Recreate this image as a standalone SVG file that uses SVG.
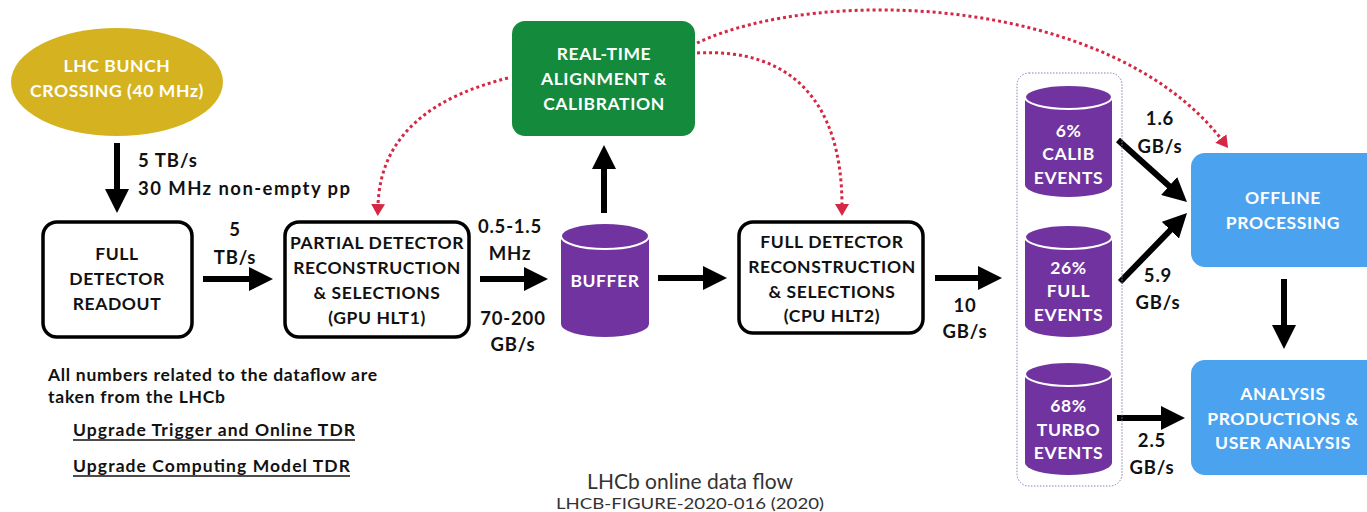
<svg xmlns="http://www.w3.org/2000/svg" width="1367" height="512" viewBox="0 0 1367 512">
<defs>
<style>
.lbl{font-family:Lato,"Open Sans","Liberation Sans",sans-serif;font-weight:bold;font-size:17.5px;letter-spacing:0.6px;text-anchor:middle;dominant-baseline:central}
.num{font-size:18.5px;letter-spacing:0.8px}
.w{fill:#ffffff}
.k{fill:#111111}
.box{fill:#ffffff;stroke:#000;stroke-width:3.5}
.cyl{fill:#7033a0}
.rim{fill:#7033a0;stroke:#ffffff;stroke-width:2}
.arr{stroke:#000;stroke-width:6;fill:none;marker-end:url(#ah)}
.dot{stroke:#d42845;stroke-width:3;fill:none;stroke-dasharray:3 3;marker-end:url(#rh)}
.note{font-family:Lato,"Open Sans","Liberation Sans",sans-serif;font-weight:bold;font-size:17.5px;fill:#111}
.cap{font-family:Lato,"Open Sans","Liberation Sans",sans-serif;fill:#333;text-anchor:middle}
</style>
<marker id="ah" markerUnits="userSpaceOnUse" markerWidth="24" markerHeight="24" viewBox="0 0 24 24" refX="6" refY="12" orient="auto">
<path d="M0,0 L24,12 L0,24 z" fill="#000"/>
</marker>
<marker id="rh" markerUnits="userSpaceOnUse" markerWidth="12" markerHeight="14" viewBox="0 0 12 14" refX="2" refY="7" orient="auto">
<path d="M0,0 L12,7 L0,14 z" fill="#d42845"/>
</marker>
</defs>
<rect width="1367" height="512" fill="#ffffff"/>

<g id="connectors">
<line class="arr" x1="117" y1="143" x2="117" y2="195"/>
<line class="arr" x1="203" y1="279" x2="255" y2="279"/>
<line class="arr" x1="480" y1="279" x2="530" y2="279"/>
<line class="arr" x1="604" y1="213" x2="604" y2="163"/>
<line class="arr" x1="658" y1="278" x2="709" y2="278"/>
<line class="arr" x1="935" y1="278" x2="984" y2="278"/>
<line class="arr" x1="1118" y1="140" x2="1173.6" y2="190"/>
<line class="arr" x1="1120" y1="282" x2="1174.5" y2="225.9"/>
<line class="arr" x1="1117" y1="418" x2="1167" y2="418"/>
<line class="arr" x1="1284" y1="279" x2="1284" y2="331"/>
<path class="dot" d="M508,78 C440,95 380,130 378,206"/>
<path class="dot" d="M697,53 C790,48 842,100 842,206"/>
<path class="dot" d="M697,43 C820,-15 1110,-5 1222,140"/>
</g>

<g id="edge-labels">
<text class="note" x="138" y="167" textLength="59" lengthAdjust="spacing" style="font-size:18.5px">5 TB/s</text>
<text class="note" x="138" y="195" textLength="212" lengthAdjust="spacing" style="font-size:18.5px">30 MHz non-empty pp</text>
<text class="lbl num k" x="235" y="229">5</text>
<text class="lbl num k" x="235" y="257">TB/s</text>
<text class="lbl num k" x="510" y="226">0.5-1.5</text>
<text class="lbl num k" x="510" y="253">MHz</text>
<text class="lbl num k" x="513" y="318">70-200</text>
<text class="lbl num k" x="513" y="344">GB/s</text>
<text class="lbl num k" x="965" y="305">10</text>
<text class="lbl num k" x="965" y="331">GB/s</text>
<text class="lbl num k" x="1160" y="118">1.6</text>
<text class="lbl num k" x="1160" y="146">GB/s</text>
<text class="lbl num k" x="1158" y="275">5.9</text>
<text class="lbl num k" x="1158" y="302">GB/s</text>
<text class="lbl num k" x="1152" y="440">2.5</text>
<text class="lbl num k" x="1152" y="467">GB/s</text>
</g>

<g id="lhc-bunch-crossing">
<ellipse cx="117" cy="82" rx="106" ry="54" fill="#d5b320"/>
<text class="lbl w" x="117" y="65">LHC BUNCH</text>
<text class="lbl w" x="117" y="90">CROSSING (40 MHz)</text>
</g>

<g id="full-detector-readout">
<rect class="box" x="43" y="222" width="149" height="115" rx="14"/>
<text class="lbl k" x="117" y="253">FULL</text>
<text class="lbl k" x="117" y="278">DETECTOR</text>
<text class="lbl k" x="117" y="303">READOUT</text>
</g>

<g id="partial-detector">
<rect class="box" x="285" y="222" width="184" height="115" rx="14"/>
<text class="lbl k" x="377" y="242">PARTIAL DETECTOR</text>
<text class="lbl k" x="377" y="267">RECONSTRUCTION</text>
<text class="lbl k" x="377" y="292">&amp; SELECTIONS</text>
<text class="lbl k" x="377" y="317">(GPU HLT1)</text>
</g>

<g id="buffer">
<path class="cyl" d="M561,236 L561,324 A44,13 0 0 0 649,324 L649,236 Z"/>
<ellipse class="rim" cx="605" cy="236" rx="44" ry="13"/>
<text class="lbl w" x="605" y="280">BUFFER</text>
</g>

<g id="realtime-alignment">
<rect x="512" y="21" width="183" height="115" rx="13" fill="#138a3c"/>
<text class="lbl w" x="604" y="53">REAL-TIME</text>
<text class="lbl w" x="604" y="78">ALIGNMENT &amp;</text>
<text class="lbl w" x="604" y="103">CALIBRATION</text>
</g>

<g id="full-detector">
<rect class="box" x="739" y="222" width="184" height="111" rx="14"/>
<text class="lbl k" x="832" y="241">FULL DETECTOR</text>
<text class="lbl k" x="832" y="266">RECONSTRUCTION</text>
<text class="lbl k" x="832" y="291">&amp; SELECTIONS</text>
<text class="lbl k" x="832" y="315">(CPU HLT2)</text>
</g>

<g id="storage-group">
<rect x="1017" y="73" width="105" height="413" rx="12" fill="none" stroke="#8a80aa" stroke-width="1" stroke-dasharray="1.5 1.5"/>
</g>

<g id="calib-events">
<path class="cyl" d="M1025,97 L1025,185 A43.5,12 0 0 0 1112,185 L1112,97 Z"/>
<ellipse class="rim" cx="1068.5" cy="97" rx="43.5" ry="12"/>
<text class="lbl w" x="1068.5" y="130">6%</text>
<text class="lbl w" x="1068.5" y="153">CALIB</text>
<text class="lbl w" x="1068.5" y="177">EVENTS</text>
</g>

<g id="full-events">
<path class="cyl" d="M1025,237 L1025,325 A43.5,12 0 0 0 1112,325 L1112,237 Z"/>
<ellipse class="rim" cx="1068.5" cy="237" rx="43.5" ry="12"/>
<text class="lbl w" x="1068.5" y="267">26%</text>
<text class="lbl w" x="1068.5" y="290">FULL</text>
<text class="lbl w" x="1068.5" y="314">EVENTS</text>
</g>

<g id="turbo-events">
<path class="cyl" d="M1025,374 L1025,463 A43.5,12 0 0 0 1112,463 L1112,374 Z"/>
<ellipse class="rim" cx="1068.5" cy="374" rx="43.5" ry="12"/>
<text class="lbl w" x="1068.5" y="405">68%</text>
<text class="lbl w" x="1068.5" y="429">TURBO</text>
<text class="lbl w" x="1068.5" y="452">EVENTS</text>
</g>

<g id="offline-processing">
<rect x="1191" y="153" width="190" height="114" rx="14" fill="#4ba3f0"/>
<text class="lbl w" x="1283" y="197">OFFLINE</text>
<text class="lbl w" x="1283" y="222">PROCESSING</text>
</g>

<g id="analysis-productions">
<rect x="1191" y="360" width="190" height="115" rx="14" fill="#4ba3f0"/>
<text class="lbl w" x="1283" y="393">ANALYSIS</text>
<text class="lbl w" x="1283" y="418">PRODUCTIONS &amp;</text>
<text class="lbl w" x="1283" y="442">USER ANALYSIS</text>
</g>

<g id="notes">
<text class="note" x="48" y="381" textLength="329" lengthAdjust="spacing">All numbers related to the dataflow are</text>
<text class="note" x="48" y="403" textLength="177" lengthAdjust="spacing">taken from the LHCb</text>
<text class="note" x="73" y="436" textLength="282" lengthAdjust="spacing">Upgrade Trigger and Online TDR</text>
<line x1="73" y1="440" x2="355" y2="440" stroke="#111" stroke-width="1.3"/>
<text class="note" x="73" y="472" textLength="277" lengthAdjust="spacing">Upgrade Computing Model TDR</text>
<line x1="73" y1="476" x2="350" y2="476" stroke="#111" stroke-width="1.3"/>
</g>

<g id="caption">
<text class="cap" x="690" y="489" style="font-size:21px">LHCb online data flow</text>
<text class="cap" x="690" y="509" textLength="268" lengthAdjust="spacingAndGlyphs" style="font-size:15px">LHCB-FIGURE-2020-016 (2020)</text>
</g>
</svg>
